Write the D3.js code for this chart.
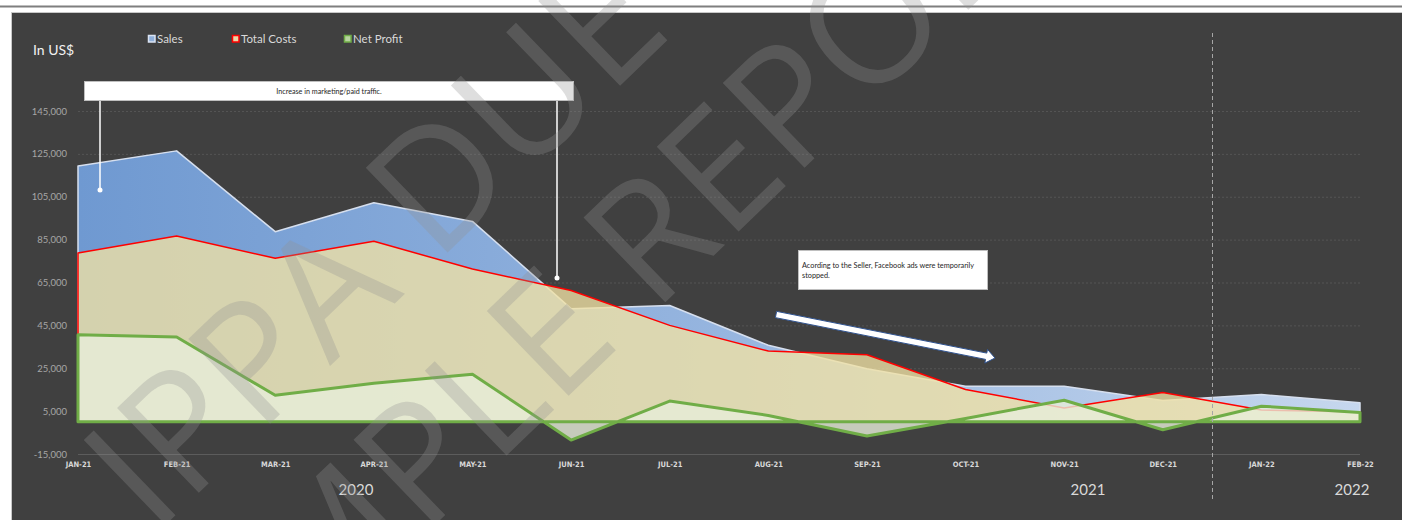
<!DOCTYPE html>
<html>
<head>
<meta charset="utf-8">
<script src="https://cdn.jsdelivr.net/npm/d3@7"></script>
<style>
  body { margin: 0; background: #ffffff; }
  svg { display: block; font-family: Lato, "Open Sans", sans-serif; }
</style>
</head>
<body>
<div class="chart"></div>
<script>
// chart data
var months = ["JAN-21", "FEB-21", "MAR-21", "APR-21", "MAY-21", "JUN-21", "JUL-21",
  "AUG-21", "SEP-21", "OCT-21", "NOV-21", "DEC-21", "JAN-22", "FEB-22"];
var sales = [119300, 126400, 88700, 102200, 93500, 52800, 54300, 35700, 24800, 16600, 16600, 10000, 12750, 8900];
var totalCosts = [78800, 86700, 76300, 84200, 71300, 61300, 45000, 33000, 31300, 15100, 6500, 13700, 5500, 4600];
var netProfit = [40600, 39600, 12400, 18000, 22200, -8500, 9700, 3000, -6600, 1600, 10100, -3700, 7300, 4400];
var yTicks = [-15000, 5000, 25000, 45000, 65000, 85000, 105000, 125000, 145000];
var legendItems = ["Sales", "Total Costs", "Net Profit"];
var yearLabels = ["2020", "2021", "2022"];

var svgWidth = 1402;
var svgHeight = 520;

var svg = d3.select(".chart")
  .append("svg")
  .attr("width", svgWidth)
  .attr("height", svgHeight);

var fmt = d3.formatLocale({ decimal: ".", thousands: ",", grouping: [3], currency: ["$", ""], minus: "-" }).format(",");

// scales
var x = d3.scalePoint().domain(months).range([78, 1360]);
var y = d3.scaleLinear().domain([-15000, 145000]).range([454, 111]);

// page strip + dark chart area
svg.append("line").attr("x1", 0).attr("x2", svgWidth).attr("y1", 6.5).attr("y2", 6.5)
  .attr("stroke", "#7f7f7f").attr("stroke-width", 2);
svg.append("rect")
  .attr("x", 11.5).attr("y", 12.5).attr("width", svgWidth - 11).attr("height", svgHeight - 12)
  .attr("fill", "#404040").attr("stroke", "#c8c8c8").attr("stroke-width", 1);

var defs = svg.append("defs");
var salesGrad = defs.append("linearGradient").attr("id", "salesGrad")
  .attr("gradientUnits", "userSpaceOnUse").attr("x1", 78).attr("x2", 1360).attr("y1", 0).attr("y2", 0);
salesGrad.append("stop").attr("offset", "0%").attr("stop-color", "#6f99d1");
salesGrad.append("stop").attr("offset", "50%").attr("stop-color", "#96b5df");
salesGrad.append("stop").attr("offset", "100%").attr("stop-color", "#c6d7ee");

// gridlines
svg.append("g").selectAll("line")
  .data(yTicks)
  .enter()
  .append("line")
  .attr("x1", 78).attr("x2", 1360)
  .attr("y1", d => y(d) + 0.5).attr("y2", d => y(d) + 0.5)
  .attr("stroke", d => d === -15000 ? "#5c5c5c" : "#545454")
  .attr("stroke-dasharray", d => d === -15000 ? null : "2,2");

// y axis labels
var yAxis = svg.append("g")
  .attr("transform", "translate(78,0)")
  .call(d3.axisLeft(y).tickValues(yTicks).tickSize(0).tickPadding(11).tickFormat(fmt));
yAxis.select(".domain").remove();
yAxis.selectAll("text").attr("fill", "#a6a6a6").attr("font-size", 9.5).attr("font-family", "Lato");

// x axis labels
var xAxis = svg.append("g")
  .attr("transform", "translate(0,454)")
  .call(d3.axisBottom(x).tickSize(0).tickPadding(8));
xAxis.select(".domain").remove();
xAxis.selectAll("text")
  .attr("fill", "#d9d9d9").attr("font-size", 7.5).attr("font-weight", "bold")
  .attr("font-family", "'Liberation Sans Narrow', 'DejaVu Sans Condensed', sans-serif");

// areas
function areaFor(values) {
  return d3.area()
    .x((d, i) => x(months[i]))
    .y0(y(0))
    .y1(d => y(d))(values);
}

svg.append("path").attr("d", areaFor(sales))
  .attr("fill", "url(#salesGrad)")
  .attr("stroke", "#d6dfee").attr("stroke-width", 1.5).attr("stroke-linejoin", "round");

svg.append("path").attr("d", areaFor(totalCosts))
  .attr("fill", "rgb(241,226,164)").attr("fill-opacity", 0.78)
  .attr("stroke", "#ff0000").attr("stroke-width", 1.5).attr("stroke-linejoin", "round");

svg.append("path").attr("d", areaFor(netProfit))
  .attr("fill", "rgb(231,237,217)").attr("fill-opacity", 0.8)
  .attr("stroke", "#70ad47").attr("stroke-width", 3).attr("stroke-linejoin", "round");

// legend
var legendX = [148, 232, 344];
var legendFill = ["#8fb0dc", "#e8d7a8", "#b7d49f"];
var legendStroke = ["#dbe4f3", "#ff0000", "#70ad47"];
var legend = svg.append("g").selectAll("g")
  .data(legendItems)
  .enter()
  .append("g")
  .attr("transform", (d, i) => `translate(${legendX[i]},35)`);
legend.append("rect")
  .attr("x", 0.5).attr("y", 0.5).attr("width", 6.5).attr("height", 6.5)
  .attr("fill", (d, i) => legendFill[i])
  .attr("stroke", (d, i) => legendStroke[i]).attr("stroke-width", 1.5);
legend.append("text")
  .attr("x", 9).attr("y", 7.5)
  .attr("fill", "#d9d9d9").attr("font-size", 11.5)
  .text(d => d);

svg.append("text").attr("x", 33).attr("y", 55)
  .attr("fill", "#f2f2f2").attr("font-size", 14).text("In US$");

// year labels and divider
var yearX = [356, 1088, 1352];
svg.append("g").selectAll("text")
  .data(yearLabels)
  .enter()
  .append("text")
  .attr("x", (d, i) => yearX[i]).attr("y", 495)
  .attr("text-anchor", "middle")
  .attr("fill", "#d9d9d9").attr("font-size", 15)
  .text(d => d);

svg.append("line")
  .attr("x1", 1212.5).attr("x2", 1212.5).attr("y1", 33).attr("y2", 502)
  .attr("stroke", "#a6a6a6").attr("stroke-dasharray", "4,3");

// annotation 1
svg.append("rect").attr("x", 84.5).attr("y", 81.5).attr("width", 489).attr("height", 19)
  .attr("fill", "#ffffff").attr("stroke", "#bfbfbf");
svg.append("text").attr("x", 329).attr("y", 94)
  .attr("text-anchor", "middle").attr("font-size", 7.2).attr("fill", "#262626")
  .text("Increase in marketing/paid traffic.");
[[100, 190], [557, 278]].forEach(function(p) {
  svg.append("line").attr("x1", p[0]).attr("x2", p[0]).attr("y1", 101).attr("y2", p[1])
    .attr("stroke", "#ffffff").attr("stroke-width", 1.5);
  svg.append("circle").attr("cx", p[0]).attr("cy", p[1]).attr("r", 2.5).attr("fill", "#ffffff");
});

// annotation 2
svg.append("rect").attr("x", 798.5).attr("y", 250.5).attr("width", 189).attr("height", 39)
  .attr("fill", "#ffffff").attr("stroke", "#bfbfbf");
var note = svg.append("text").attr("x", 802).attr("y", 268)
  .attr("font-size", 7.3).attr("fill", "#262626");
note.append("tspan").attr("x", 802).text("Acording to the Seller, Facebook ads were temporarily");
note.append("tspan").attr("x", 802).attr("dy", 9.5).text("stopped.");

// arrow
(function() {
  var x0 = 776, y0 = 314.5, x1 = 995, y1 = 358;
  var len = Math.hypot(x1 - x0, y1 - y0);
  var ux = (x1 - x0) / len, uy = (y1 - y0) / len, nx = -uy, ny = ux;
  var hw = 3.2, hh = 7, hl = 9;
  var bx = x1 - ux * hl, by = y1 - uy * hl;
  var pts = [
    [x0 + nx * hw, y0 + ny * hw], [bx + nx * hw, by + ny * hw], [bx + nx * hh, by + ny * hh],
    [x1, y1], [bx - nx * hh, by - ny * hh], [bx - nx * hw, by - ny * hw], [x0 - nx * hw, y0 - ny * hw]
  ];
  svg.append("polygon").attr("points", pts.map(p => p.join(",")).join(" "))
    .attr("fill", "#ffffff").attr("stroke", "#2f528f").attr("stroke-width", 1);
})();

// watermark
var wm = svg.append("g")
  .attr("fill", "#929292").attr("fill-opacity", 0.3)
  .attr("font-family", "'Open Sans', sans-serif").attr("font-size", 165);
var ang = -44, ca = Math.cos(ang * Math.PI / 180), sa = Math.sin(ang * Math.PI / 180);
function watermark(str, idx, ax, ay) {
  var t = wm.append("text").text(str);
  var w = idx > 0 ? t.node().getSubStringLength(0, idx) : 0;
  t.attr("transform", `translate(${ax - w * ca},${ay - w * sa}) rotate(${ang})`);
}
watermark("IPPA DUE DILIGENCE", 3, 330, 366);
watermark("SAMPLE REPORT", 5, 557, 407);
</script>
</body>
</html>
